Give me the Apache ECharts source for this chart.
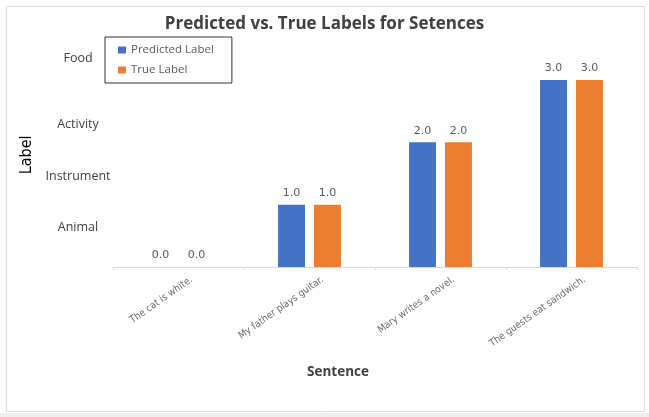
<!DOCTYPE html>
<html>
<head>
<meta charset="utf-8">
<script src="https://cdn.jsdelivr.net/npm/echarts@6/dist/echarts.min.js"></script>
<style>
  html, body { margin: 0; padding: 0; background: #fff; }
  #chart { width: 649px; height: 417px; }
</style>
</head>
<body>
<div id="chart"></div>
<script>
const sentences = ['The cat is white.', 'My father plays guitar.', 'Mary writes a novel.', 'The guests eat sandwich.']
const predicted = [0, 1, 2, 3]
const trueLabel = [0, 1, 2, 3]
// y-axis class names and where they sit on the value scale
const classNames = ['Animal', 'Instrument', 'Activity', 'Food']
const classPos = [0.63, 1.46, 2.28, 3.34]

const chart = echarts.init(document.getElementById('chart'))

const narrow = '"DejaVu Sans Condensed", "Liberation Sans", sans-serif'

const valueLabel = {
  show: true,
  position: 'top',
  distance: 6,
  color: '#595959',
  fontSize: 11,
  fontFamily: 'DejaVu Sans',
  formatter: p => p.value.toFixed(1)
}

const option = {
  animation: false,
  title: {
    text: 'Predicted vs. True Labels for Setences',
    left: 'center',
    top: 11,
    textStyle: {
      fontSize: 17,
      fontWeight: 'bold',
      color: '#404040',
      fontFamily: 'Open Sans'
    }
  },
  legend: {
    orient: 'vertical',
    left: 105,
    top: 37,
    padding: [7, 18, 7, 13],
    itemGap: 8,
    itemWidth: 8,
    itemHeight: 7,
    icon: 'rect',
    borderColor: '#333',
    borderWidth: 1,
    textStyle: { fontSize: 11.5, color: '#595959', fontFamily: 'Open Sans' },
    data: ['Predicted Label', 'True Label']
  },
  grid: {
    left: 113,
    right: 12,
    top: 42.6,
    bottom: 150,
    containLabel: false
  },
  xAxis: {
    type: 'category',
    data: sentences,
    name: 'Sentence',
    nameLocation: 'middle',
    nameGap: 98,
    nameTextStyle: {
      fontSize: 13.5,
      fontWeight: 'bold',
      color: '#404040',
      fontFamily: 'Open Sans',
      padding: [0, 74, 0, 0]
    },
    axisLine: { lineStyle: { color: '#d9d9d9' } },
    axisTick: { show: true, length: 3, lineStyle: { color: '#d9d9d9' } },
    axisLabel: {
      rotate: 35,
      interval: 0,
      margin: 21,
      padding: [0, -16, 0, 0],
      fontSize: 10,
      color: '#6a6a6a',
      fontFamily: narrow
    }
  },
  yAxis: {
    type: 'value',
    min: 0,
    max: 3.6,
    name: 'Label',
    nameLocation: 'middle',
    nameGap: 76,
    nameTextStyle: {
      fontSize: 16,
      color: '#000',
      fontFamily: narrow
    },
    axisLine: { show: false },
    axisTick: { show: false },
    splitLine: { show: false },
    axisLabel: {
      customValues: classPos,
      formatter: v => classNames[classPos.indexOf(v)] || '',
      align: 'center',
      margin: 35,
      fontSize: 12.5,
      color: '#404040',
      fontFamily: 'Open Sans'
    }
  },
  series: [
    {
      name: 'Predicted Label',
      type: 'bar',
      data: predicted,
      barWidth: 27,
      barGap: '33%',
      itemStyle: { color: '#4472C4' },
      label: valueLabel
    },
    {
      name: 'True Label',
      type: 'bar',
      data: trueLabel,
      barWidth: 27,
      itemStyle: { color: '#ED7D31' },
      label: valueLabel
    }
  ],
  graphic: [
    {
      type: 'rect',
      shape: { x: 6.5, y: 6.5, width: 638, height: 405 },
      style: { fill: 'none', stroke: '#dcdcdc', lineWidth: 1 },
      silent: true
    },
    {
      type: 'rect',
      shape: { x: 0, y: 413, width: 649, height: 4 },
      style: { fill: '#efefef' },
      silent: true
    }
  ]
}

chart.setOption(option)
</script>
</body>
</html>
